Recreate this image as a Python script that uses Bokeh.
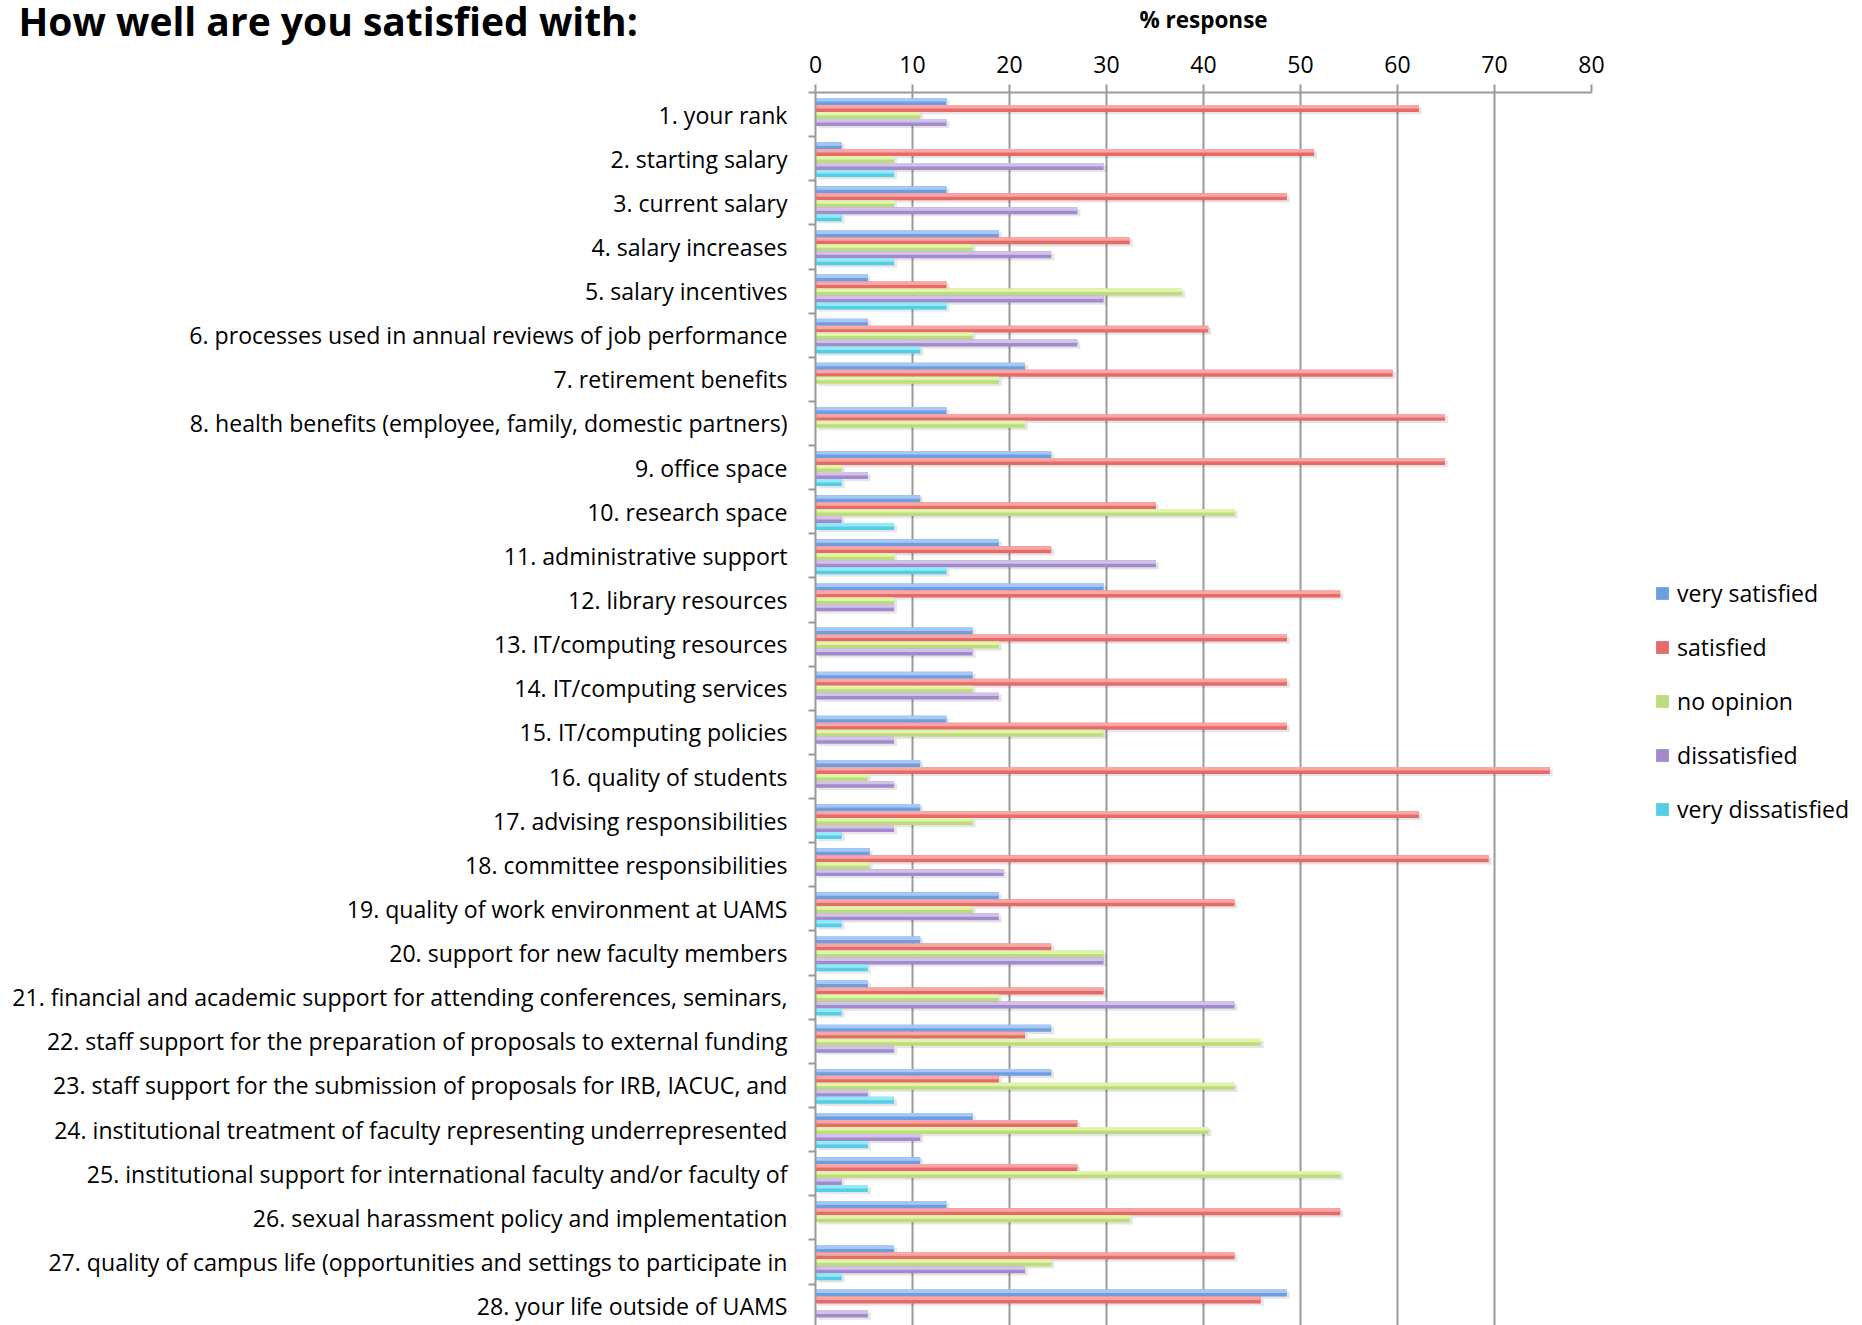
from bokeh.plotting import figure
from bokeh.layouts import row
from bokeh.models import Range1d, FixedTicker, Legend, LegendItem, Title, ColumnDataSource
from bokeh.embed import file_html
from bokeh.resources import INLINE

title_text = "How well are you satisfied with:"
axis_title = "% response"

categories = [
    "1. your rank",
    "2. starting salary",
    "3. current salary",
    "4. salary increases",
    "5. salary incentives",
    "6. processes used in annual reviews of job performance",
    "7. retirement benefits",
    "8. health benefits (employee, family, domestic partners)",
    "9. office space",
    "10. research space",
    "11. administrative support",
    "12. library resources",
    "13. IT/computing resources",
    "14. IT/computing services",
    "15. IT/computing policies",
    "16. quality of students",
    "17. advising responsibilities",
    "18. committee responsibilities",
    "19. quality of work environment at UAMS",
    "20. support for new faculty members",
    "21. financial and academic support for attending conferences, seminars,",
    "22. staff support for the preparation of proposals to external funding",
    "23. staff support for the submission of proposals for IRB, IACUC, and",
    "24. institutional treatment of faculty representing underrepresented",
    "25. institutional support for international faculty and/or faculty of",
    "26. sexual harassment policy and implementation",
    "27. quality of campus life (opportunities and settings to participate in",
    "28. your life outside of UAMS",
]

series_names = ["very satisfied", "satisfied", "no opinion", "dissatisfied", "very dissatisfied"]

very_satisfied = [13.5, 2.7, 13.5, 18.9, 5.4, 5.4, 21.6, 13.5, 24.3, 10.8, 18.9, 29.7, 16.2, 16.2,
                  13.5, 10.8, 10.8, 5.6, 18.9, 10.8, 5.4, 24.3, 24.3, 16.2, 10.8, 13.5, 8.1, 48.6]
satisfied = [62.2, 51.4, 48.6, 32.4, 13.5, 40.5, 59.5, 64.9, 64.9, 35.1, 24.3, 54.1, 48.6, 48.6,
             48.6, 75.7, 62.2, 69.4, 43.2, 24.3, 29.7, 21.6, 18.9, 27.0, 27.0, 54.1, 43.2, 45.9]
no_opinion = [10.8, 8.1, 8.1, 16.2, 37.8, 16.2, 18.9, 21.6, 2.7, 43.2, 8.1, 8.1, 18.9, 16.2,
              29.7, 5.4, 16.2, 5.6, 16.2, 29.7, 18.9, 45.9, 43.2, 40.5, 54.1, 32.4, 24.3, 0.0]
dissatisfied = [13.5, 29.7, 27.0, 24.3, 29.7, 27.0, 0.0, 0.0, 5.4, 2.7, 35.1, 8.1, 16.2, 18.9,
                8.1, 8.1, 8.1, 19.4, 18.9, 29.7, 43.2, 8.1, 5.4, 10.8, 2.7, 0.0, 21.6, 5.4]
very_dissatisfied = [0.0, 8.1, 2.7, 8.1, 13.5, 10.8, 0.0, 0.0, 2.7, 8.1, 13.5, 0.0, 0.0, 0.0,
                     0.0, 0.0, 2.7, 0.0, 2.7, 5.4, 2.7, 0.0, 8.1, 5.4, 5.4, 0.0, 2.7, 0.0]

x_ticks = [0, 10, 20, 30, 40, 50, 60, 70, 80]
x_max = 80

series_values = [very_satisfied, satisfied, no_opinion, dissatisfied, very_dissatisfied]
dark_colors = ["#6c9fe2", "#e56b69", "#bddc7b", "#a28acd", "#55cde6"]
light_colors = ["#a6c8f5", "#f9a6a4", "#e2f4ab", "#d2c2ea", "#92e9f8"]

FONT = "Open Sans"
GRAY = "#9a9a9a"
H = 1325
LEFT, TOP = 815, 91
FRAME_W = 776
RIGHT = 29
W_MAIN = LEFT + FRAME_W + RIGHT
W_LEG = 1854 - W_MAIN

p = figure(width=W_MAIN, height=H, output_backend="svg", toolbar_location=None,
           x_range=Range1d(0, x_max), y_range=Range1d(28.44, 0.5),
           x_axis_location="above",
           min_border_left=LEFT, min_border_right=RIGHT, min_border_top=TOP, min_border_bottom=0)
p.outline_line_color = None
p.background_fill_color = "white"

bh = 0.158
sources = []
for k, (name, vals) in enumerate(zip(series_names, series_values)):
    off = (k - 2) * bh + 0.02
    ys = [i + 1 + off for i in range(len(categories))]
    src = ColumnDataSource(dict(
        y=ys, v=vals,
        ys=[y + 0.05 for y in ys],
        sr=[v + 0.3 if v > 0 else 0.3 for v in vals],
        yh=[y - bh * 0.25 for y in ys],
    ))
    sources.append(src)
    p.hbar(y="ys", left=0.3, right="sr", height=bh, source=src,
           fill_color="black", fill_alpha=0.10, line_color=None)
    p.hbar(y="y", left=0, right="v", height=bh, source=src,
           fill_color=dark_colors[k], line_color=None)
    p.hbar(y="yh", left=0, right="v", height=bh * 0.5, source=src,
           fill_color=light_colors[k], line_color=None)

# x axis (top)
xa = p.xaxis[0]
xa.ticker = FixedTicker(ticks=x_ticks, minor_ticks=[])
xa.axis_line_color = GRAY
xa.axis_line_width = 2
xa.major_tick_line_color = GRAY
xa.major_tick_line_width = 2
xa.major_tick_out = 8
xa.major_tick_in = 0
xa.minor_tick_line_color = None
xa.major_label_text_font = FONT
xa.major_label_text_font_size = "23px"
xa.major_label_text_color = "black"
xa.major_label_standoff = 12
xa.axis_label = axis_title
xa.axis_label_text_font = FONT
xa.axis_label_text_font_style = "bold"
xa.axis_label_text_font_size = "22.5px"
xa.axis_label_text_color = "black"
xa.axis_label_standoff = 18

p.xgrid.ticker = FixedTicker(ticks=x_ticks)
p.xgrid.grid_line_color = GRAY
p.xgrid.grid_line_width = 2
p.ygrid.grid_line_color = None

# y axis (left)
ya = p.yaxis[0]
ya.ticker = FixedTicker(ticks=list(range(1, len(categories) + 1)),
                        minor_ticks=[i + 0.5 for i in range(len(categories) + 1)])
ya.major_label_overrides = {i + 1: c for i, c in enumerate(categories)}
ya.axis_line_color = GRAY
ya.axis_line_width = 2
ya.major_tick_line_color = None
ya.major_tick_out = 0
ya.major_tick_in = 0
ya.minor_tick_line_color = GRAY
ya.minor_tick_line_width = 2
ya.minor_tick_out = 7
ya.minor_tick_in = 0
ya.major_label_text_font = FONT
ya.major_label_text_font_size = "23.1px"
ya.major_label_text_color = "black"
ya.major_label_standoff = 21

p.add_layout(Title(text=title_text, align="left", offset=-(LEFT - 18),
                   vertical_align="bottom", standoff=-92,
                   text_font=FONT, text_font_style="bold", text_font_size="39px",
                   text_color="black"), "above")

# legend panel to the right of the chart; its renderers are degenerate (zero-size) bars
lf = figure(width=W_LEG, height=H, output_backend="svg", toolbar_location=None,
            x_range=Range1d(0, x_max), y_range=Range1d(28.44, 0.5),
            x_axis_location=None, y_axis_location=None,
            min_border_left=0, min_border_right=0, min_border_top=0, min_border_bottom=0)
lf.outline_line_color = None
lf.grid.visible = False
items = []
for k, name in enumerate(series_names):
    r = lf.hbar(y="y", left="v", right="v", height=0, source=sources[k],
                fill_color=dark_colors[k], line_color=None)
    items.append(LegendItem(label=name, renderers=[r]))

legend = Legend(items=items, location=(1654 - W_MAIN, 500), orientation="vertical",
                glyph_width=16, glyph_height=16, label_standoff=7,
                label_text_font=FONT, label_text_font_size="23.1px", label_text_color="black",
                label_height=28, spacing=22, padding=0, margin=0,
                border_line_color=None, background_fill_alpha=0)
lf.add_layout(legend)

layout = row(p, lf, spacing=0)
open("out.html", "w").write(file_html(layout, INLINE))
